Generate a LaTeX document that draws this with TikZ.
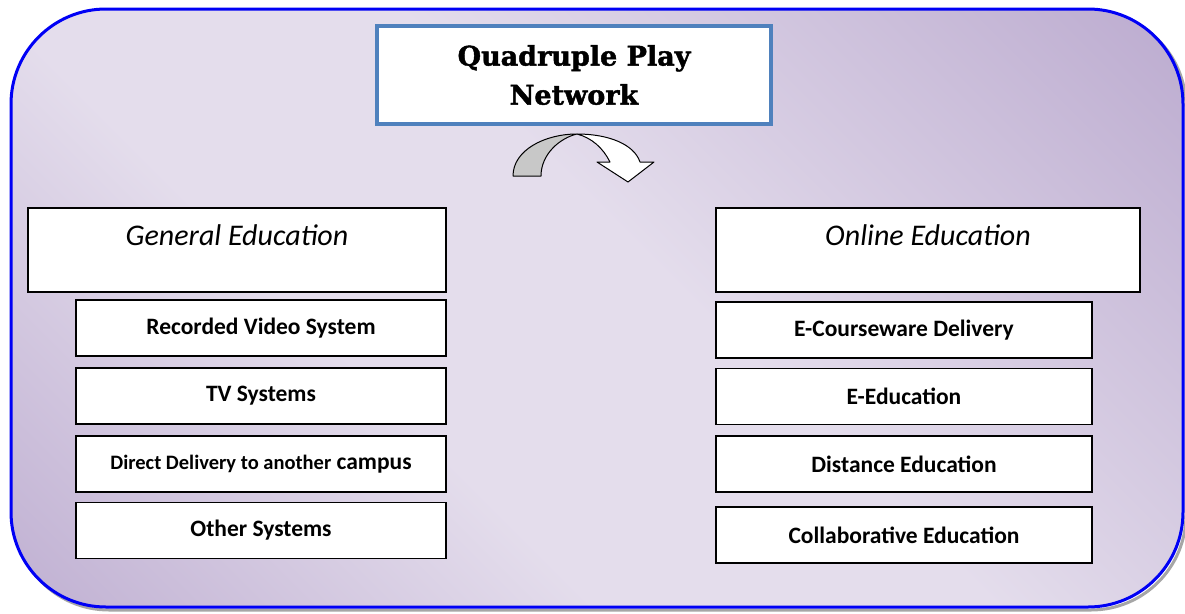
\documentclass[tikz,border=0pt]{standalone}
\usepackage{fontspec}
\setmainfont{Carlito}
\newfontfamily\titlefont[BoldFeatures={FakeBold=1.6}]{DejaVu Serif}
\definecolor{bgdark}{HTML}{A994C2}
\definecolor{bglight}{HTML}{E4DDEC}
\definecolor{framecol}{HTML}{0000F5}
\definecolor{titleblue}{HTML}{4F81BD}
\definecolor{arrowgray}{HTML}{C8C8C8}
\pgfdeclarehorizontalshading{bgband}{100bp}{color(0bp)=(bgdark); color(38bp)=(bglight); color(54bp)=(bglight); color(100bp)=(bgdark)}
\begin{document}
\begin{tikzpicture}[x=1pt,y=-1pt,
  box/.style={draw=black, line width=1.6pt, fill=white, rectangle, inner sep=0pt, align=center},
  bigbox/.style={box, minimum height=84pt},
  subbox/.style={box, minimum height=56pt, font=\bfseries\fontsize{23.5}{26}\selectfont},
  headlbl/.style={font=\itshape\fontsize{30}{34}\selectfont, anchor=north, yshift=-14pt},
  titlebox/.style={draw=titleblue, line width=4pt, fill=white, rectangle, inner sep=0pt, align=center,
    minimum width=394pt, minimum height=98pt, font=\titlefont\bfseries\fontsize{27}{39}\selectfont},
  arrowline/.style={draw=black, line width=1pt, line join=round}
]
\useasboundingbox (0,0) rectangle (1185,613);
% outer frame shadow
\draw[line width=3pt, draw=gray!70, rounded corners=95pt] (14,12) rectangle (1186,610);
% outer frame
\shade[shading=bgband, shading angle=45, rounded corners=95pt] (11,9) rectangle (1183,607);
\draw[line width=3pt, draw=framecol, rounded corners=95pt] (11,9) rectangle (1183,607);

% title
\node[titlebox] (title) at (574,75) {Quadruple Play\\Network};

% curved arrow
\begin{scope}[yshift=-4pt]
\filldraw[arrowline, fill=arrowgray] (513,172) .. controls (513,146) and (545,130) .. (577,130)
  .. controls (560,134) and (541,150) .. (541,172) -- cycle;
\filldraw[arrowline, fill=white] (577,130) .. controls (608,130) and (634,140) .. (640,158)
  -- (654,158) -- (628,178) -- (597,158) -- (610,158)
  .. controls (603,144) and (592,134) .. (577,130) -- cycle;
\end{scope}

% left column
\node[bigbox, minimum width=418pt, label={[headlbl]north:General Education}] (gen) at (237,250) {};
\node[subbox, minimum width=370pt] (rvs) at (261,328) {Recorded Video System};
\node[subbox, minimum width=370pt] (tvs) at (261,396) {TV Systems};
\node[subbox, minimum width=370pt] (ddc) at (261,464) {{\fontsize{20.5}{24}\selectfont Direct Delivery to another} campus};
\node[subbox, minimum width=370pt] (oth) at (261,530.5) {Other Systems};

% right column
\node[bigbox, minimum width=424pt, label={[headlbl]north:Online Education}] (onl) at (928,250) {};
\node[subbox, minimum width=376pt] (ecd) at (904,330) {E-Courseware Delivery};
\node[subbox, minimum width=376pt] (eed) at (904,396.5) {E-Education};
\node[subbox, minimum width=376pt] (dis) at (904,464) {Distance Education};
\node[subbox, minimum width=376pt] (col) at (904,535) {Collaborative Education};
\end{tikzpicture}
\end{document}
